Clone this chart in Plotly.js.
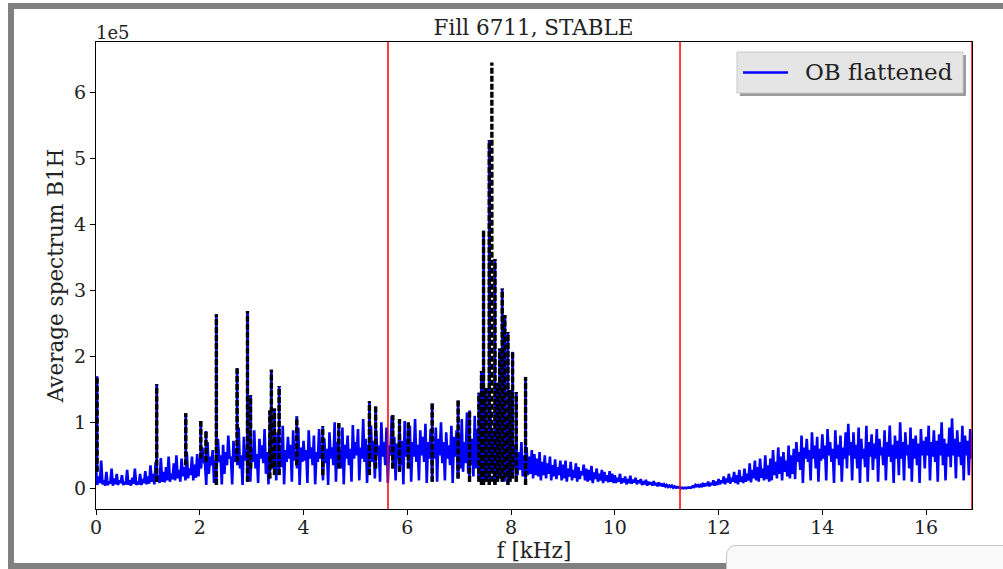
<!DOCTYPE html>
<html>
<head>
<meta charset="utf-8">
<script src="https://cdn.plot.ly/plotly-3.0.1.min.js"></script>
<style>
  html, body { margin: 0; padding: 0; background: #fff; }
  #wrap { position: relative; width: 1003px; height: 569px; overflow: hidden; }
  #chart { position: absolute; left: 0; top: 0; width: 1003px; height: 569px; }
  .bar { position: absolute; background: #808080; }
  #box { position: absolute; left: 726px; top: 545px; width: 290px; height: 40px;
         background: #f9f9f9; border: 1px solid #c4c4c4; border-top-left-radius: 10px; }
</style>
</head>
<body>
<div id="wrap">
  <div id="chart"></div>
  <div class="bar" style="left:8px;top:3px;width:995px;height:6px;"></div>
  <div class="bar" style="left:8px;top:3px;width:6px;height:566px;"></div>
  <div class="bar" style="left:8px;top:563px;width:719px;height:6px;"></div>
  <div id="box"></div>
</div>
<script>
// Frequency grid step (kHz) and Nyquist edge
const freqStep = 0.025;
const fMax = 16.885;
// Red marker lines (kHz)
const markerLines = [5.628, 11.257, 16.885];
const seriesName = 'OB flattened';

// "OB flattened" spectrum, units of 1e5, one value per 0.025 kHz (20 values = 0.5 kHz)
const ob00 = [0.30,0.05,0.18,0.08,0.42,0.06,0.12,0.04,0.25,0.05,0.10,0.07,0.30,0.04,0.15,0.06,0.22,0.05,0.12,0.08];
const ob01 = [0.20,0.05,0.10,0.06,0.28,0.05,0.12,0.04,0.16,0.07,0.30,0.05,0.10,0.06,0.22,0.05,0.14,0.08,0.26,0.06];
const ob02 = [0.18,0.07,0.35,0.10,0.22,0.06,0.40,0.12,0.20,0.08,0.46,0.10,0.25,0.09,0.32,0.12,0.48,0.10,0.22,0.14];
const ob03 = [0.38,0.12,0.50,0.15,0.28,0.10,0.45,0.18,0.32,0.12,0.55,0.15,0.30,0.20,0.48,0.12,0.36,0.16,0.52,0.18];
const ob04 = [0.45,0.30,0.62,0.40,0.38,0.05,0.70,0.22,0.48,0.35,0.58,0.08,0.42,0.30,0.75,0.40,0.50,0.06,0.66,0.22];
const ob05 = [0.55,0.35,0.80,0.45,0.48,0.06,0.72,0.40,0.60,0.35,0.92,0.30,0.50,0.05,0.78,0.42,0.58,0.32,0.85,0.10];
const ob06 = [0.60,0.40,0.88,0.30,0.52,0.08,0.75,0.45,0.65,0.38,0.90,0.22,0.55,0.06,0.80,0.48,0.62,0.35,0.70,0.12];
const ob07 = [0.85,0.45,0.60,0.32,0.95,0.06,0.58,0.40,0.78,0.45,0.66,0.10,0.88,0.42,0.55,0.30,0.92,0.05,0.62,0.40];
const ob08 = [0.72,0.42,0.58,0.08,0.88,0.45,0.62,0.35,0.80,0.06,0.55,0.40,0.90,0.45,0.65,0.12,0.76,0.38,0.60,0.05];
const ob09 = [0.85,0.45,0.62,0.35,1.00,0.10,0.70,0.48,0.58,0.30,0.92,0.06,0.66,0.45,0.80,0.35,0.60,0.10,0.96,0.45];
const ob10 = [0.70,0.50,0.90,0.12,0.62,0.45,1.05,0.40,0.75,0.08,0.66,0.48,0.95,0.40,0.72,0.15,0.88,0.50,0.65,0.10];
const ob11 = [1.00,0.48,0.70,0.35,0.92,0.08,0.65,0.50,1.10,0.42,0.78,0.12,0.68,0.45,0.96,0.35,0.72,0.06,1.02,0.48];
const ob12 = [0.75,0.50,0.95,0.10,0.70,0.48,1.05,0.40,0.66,0.12,0.88,0.50,0.78,0.40,0.98,0.08,0.70,0.45,0.90,0.30];
const ob13 = [0.68,0.45,0.92,0.10,0.75,0.50,1.00,0.38,0.70,0.12,0.85,0.45,0.65,0.35,0.95,0.08,0.78,0.48,0.88,0.15];
const ob14 = [0.80,0.30,1.05,0.25,0.70,0.38,1.15,0.22,0.85,0.35,0.75,0.18,1.10,0.30,0.90,0.15,1.20,0.28,0.95,0.12];
const ob15 = [1.15,0.20,0.90,0.10,1.20,0.30,0.85,0.08,1.10,0.25,0.95,0.15,1.18,0.35,0.80,0.10,1.05,0.22,0.92,0.18];
const ob16 = [0.80,0.25,0.65,0.30,0.72,0.20,0.55,0.28,0.70,0.18,0.50,0.25,0.62,0.20,0.48,0.22,0.58,0.15,0.52,0.20];
const ob17 = [0.45,0.18,0.55,0.12,0.40,0.20,0.50,0.15,0.38,0.22,0.48,0.12,0.35,0.18,0.44,0.14,0.32,0.20,0.42,0.12];
const ob18 = [0.36,0.15,0.42,0.10,0.30,0.18,0.40,0.12,0.28,0.16,0.38,0.10,0.32,0.14,0.26,0.20,0.36,0.12,0.30,0.10];
const ob19 = [0.28,0.12,0.34,0.08,0.24,0.14,0.30,0.10,0.22,0.12,0.28,0.08,0.25,0.11,0.20,0.09,0.26,0.10,0.22,0.08];
const ob20 = [0.20,0.08,0.16,0.10,0.22,0.07,0.15,0.09,0.18,0.06,0.14,0.08,0.19,0.07,0.13,0.09,0.16,0.06,0.12,0.08];
const ob21 = [0.14,0.05,0.11,0.06,0.13,0.04,0.10,0.06,0.09,0.04,0.11,0.05,0.08,0.03,0.09,0.04,0.07,0.03,0.06,0.03];
const ob22 = [0.05,0.02,0.04,0.02,0.04,0.01,0.03,0.01,0.02,0.01,0.02,0.00,0.01,0.00,0.01,0.00,0.01,0.01,0.02,0.01];
const ob23 = [0.03,0.02,0.05,0.02,0.06,0.03,0.05,0.02,0.08,0.03,0.07,0.04,0.10,0.03,0.08,0.05,0.12,0.04,0.10,0.05];
const ob24 = [0.14,0.06,0.12,0.08,0.18,0.06,0.15,0.09,0.22,0.07,0.16,0.10,0.25,0.08,0.20,0.06,0.28,0.10,0.18,0.08];
const ob25 = [0.30,0.10,0.22,0.12,0.38,0.09,0.28,0.15,0.42,0.12,0.32,0.10,0.45,0.16,0.30,0.12,0.50,0.14,0.35,0.10];
const ob26 = [0.45,0.12,0.58,0.20,0.40,0.15,0.62,0.22,0.48,0.12,0.55,0.25,0.42,0.18,0.65,0.15,0.50,0.22,0.60,0.14];
const ob27 = [0.70,0.40,0.55,0.28,0.80,0.08,0.62,0.45,0.75,0.40,0.58,0.12,0.85,0.45,0.65,0.30,0.78,0.10,0.60,0.42];
const ob28 = [0.82,0.45,0.65,0.12,0.90,0.50,0.70,0.40,0.60,0.08,0.88,0.45,0.66,0.35,0.80,0.10,0.62,0.45,0.85,0.30];
const ob29 = [0.98,0.50,0.70,0.12,0.85,0.45,0.66,0.30,0.92,0.08,0.75,0.45,0.60,0.32,0.95,0.10,0.70,0.48,0.82,0.28];
const ob30 = [0.68,0.45,0.90,0.10,0.75,0.50,0.62,0.35,0.88,0.12,0.70,0.48,0.95,0.40,0.66,0.08,0.80,0.45,0.72,0.20];
const ob31 = [1.00,0.45,0.70,0.12,0.85,0.50,0.66,0.30,0.92,0.10,0.75,0.45,0.80,0.35,0.68,0.08,0.90,0.50,0.72,0.30];
const ob32 = [0.78,0.50,0.95,0.12,0.70,0.48,0.88,0.40,0.72,0.10,0.82,0.50,1.00,0.35,0.75,0.12,0.68,0.48,0.92,0.32];
const ob33 = [1.06,0.50,0.75,0.15,0.88,0.48,0.70,0.35,0.95,0.12,0.80,0.50,0.72,0.20,0.90,0.45];

// Spectral lines (kHz), their tops (raw, black) and (flattened, blue), and local floor, units of 1e5
const lineFreq = [0.02,1.17,1.73,2.02,2.12,2.32,2.72,2.92,2.98,3.35,3.38,3.44,3.53,3.87,4.37,4.68,5.27,5.39,5.72,5.85,6.02,6.48,6.98,7.20,7.38,7.43,7.47,7.52,7.58,7.63,7.69,7.74,7.78,7.83,7.88,7.94,7.98,8.03,8.10,8.28];
const lineRawTop = [1.70,1.58,1.14,1.02,0.87,2.64,1.82,2.69,1.41,1.18,1.80,1.21,1.55,1.09,0.94,0.99,1.32,1.24,1.11,1.05,1.00,1.29,1.33,1.18,1.45,1.78,3.91,1.52,5.28,6.46,3.48,1.60,2.12,3.03,2.63,2.37,1.49,2.07,1.46,1.69];
const lineFlatTop = [1.70,1.58,1.14,1.02,0.87,2.64,1.82,2.69,1.41,1.18,1.80,1.21,1.55,1.09,0.94,0.99,1.32,1.24,1.11,1.05,1.00,1.29,1.33,1.18,1.45,1.78,3.91,1.52,5.28,null,3.48,1.60,2.12,3.03,2.63,2.37,1.49,2.07,1.46,1.69];
const lineFloor = [0.25,0.10,0.35,0.45,0.40,0.05,0.40,0.10,0.30,0.15,0.30,0.20,0.20,0.35,0.20,0.30,0.20,0.30,0.30,0.25,0.30,0.10,0.15,0.10,0.10,0.05,0.05,0.10,0.05,0.10,0.05,0.10,0.15,0.10,0.15,0.05,0.10,0.15,0.10,0.05];

const obFlat = [].concat(ob00,ob01,ob02,ob03,ob04,ob05,ob06,ob07,ob08,ob09,ob10,ob11,ob12,ob13,ob14,ob15,ob16,
  ob17,ob18,ob19,ob20,ob21,ob22,ob23,ob24,ob25,ob26,ob27,ob28,ob29,ob30,ob31,ob32,ob33);
const freq = obFlat.map((_, i) => +(i * freqStep).toFixed(4));

function segs(tops) {
  const x = [], y = [];
  lineFreq.forEach((f, i) => {
    if (tops[i] === null) return;
    x.push(f, f, null);
    y.push(lineFloor[i], tops[i], null);
  });
  return {x, y};
}
const blueSeg = segs(lineFlatTop);
const blackSeg = segs(lineRawTop);

const FONT = "DejaVu Serif, Liberation Serif, serif";
const BLUE = '#0000ff';

// plot area geometry (pixels) for the hand-placed legend box
const L = 96, R = 31, T = 42, B = 60, W = 1003, H = 569;
const PW = W - L - R, PH = H - T - B;
const px = v => (v - L) / PW;
const py = v => 1 - (v - T) / PH;

const traces = [
  {x: freq, y: obFlat, type: 'scatter', mode: 'lines', name: seriesName, showlegend: false,
   line: {color: BLUE, width: 2.6}},
  {x: blueSeg.x, y: blueSeg.y, type: 'scatter', mode: 'lines', showlegend: false,
   line: {color: BLUE, width: 2.8}},
  {x: blackSeg.x, y: blackSeg.y, type: 'scatter', mode: 'lines', showlegend: false,
   line: {color: '#000000', width: 3.4, dash: '6px,2px'}}
];

const shapes = markerLines.map(v => ({type: 'line', xref: 'x', yref: 'paper', x0: v, x1: v, y0: 0, y1: 1,
  line: {color: '#ff0000', width: 1.5}, layer: 'above'}));
// legend box: shadow, box, line sample
shapes.push({type: 'rect', xref: 'paper', yref: 'paper', x0: px(740), x1: px(966), y0: py(96), y1: py(55),
  fillcolor: '#9a9a9a', line: {width: 0}, layer: 'above'});
shapes.push({type: 'rect', xref: 'paper', yref: 'paper', x0: px(737), x1: px(963), y0: py(93), y1: py(52),
  fillcolor: '#e5e5e5', line: {color: '#c8c8c8', width: 1}, layer: 'above'});
shapes.push({type: 'line', xref: 'paper', yref: 'paper', x0: px(743), x1: px(788), y0: py(72.5), y1: py(72.5),
  line: {color: BLUE, width: 2.5}, layer: 'above'});

const layout = {
  width: W, height: H,
  margin: {l: L, r: R, t: T, b: B, pad: 0},
  paper_bgcolor: '#ffffff', plot_bgcolor: '#ffffff',
  font: {family: FONT, color: '#222', size: 19},
  title: {text: 'Fill 6711, STABLE', font: {family: FONT, size: 21.5, color: '#222'},
          x: 0.532, xanchor: 'center', y: 0.952, yanchor: 'middle'},
  showlegend: false,
  xaxis: {range: [0, fMax], tickmode: 'array', tickvals: [0,2,4,6,8,10,12,14,16],
          ticks: 'outside', ticklen: 5, tickcolor: '#000', showgrid: false, zeroline: false,
          showline: true, linecolor: '#000', linewidth: 1, mirror: true, ticklabelstandoff: -4,
          tickfont: {family: FONT, size: 19, color: '#222'},
          title: {text: 'f [kHz]', font: {family: FONT, size: 21.5, color: '#222'}, standoff: 0}},
  yaxis: {range: [-0.314, 6.77], tickmode: 'array', tickvals: [0,1,2,3,4,5,6],
          ticks: 'outside', ticklen: 5, tickcolor: '#000', showgrid: false, zeroline: false,
          showline: true, linecolor: '#000', linewidth: 1, mirror: true,
          tickfont: {family: FONT, size: 19, color: '#222'},
          title: {text: 'Average spectrum B1H', font: {family: FONT, size: 21.5, color: '#222'}, standoff: 4}},
  shapes: shapes,
  annotations: [
    {text: '1e5', xref: 'paper', yref: 'paper', x: 0, y: 1, xanchor: 'left', yanchor: 'bottom',
     showarrow: false, font: {family: FONT, size: 18, color: '#222'}, xshift: -2, yshift: -3},
    {text: seriesName, xref: 'paper', yref: 'paper', x: px(803), y: py(72), xanchor: 'left', yanchor: 'middle',
     showarrow: false, font: {family: FONT, size: 23, color: '#222'}}
  ],
  hovermode: false
};

Plotly.newPlot('chart', traces, layout, {displayModeBar: false, staticPlot: true});
</script>
</body>
</html>
